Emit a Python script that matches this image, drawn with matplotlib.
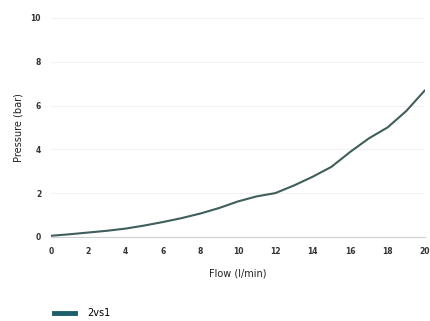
import matplotlib
matplotlib.use("Agg")
import matplotlib.pyplot as plt
from matplotlib.lines import Line2D

flow = [0, 1, 2, 3, 4, 5, 6, 7, 8, 9, 10, 11, 12, 13, 14, 15, 16, 17, 18, 19, 20]
pressure = [0.05, 0.12, 0.2, 0.28, 0.38, 0.52, 0.68, 0.86, 1.07, 1.32, 1.62, 1.85, 2.0, 2.35, 2.75, 3.2, 3.88, 4.5, 5.0, 5.75, 6.7]
series_name = "2vs1"
xticks = [0, 2, 4, 6, 8, 10, 12, 14, 16, 18, 20]
yticks = [0, 2, 4, 6, 8, 10]

fig = plt.figure(figsize=(4.31, 3.21), dpi=100)
ax = fig.add_axes([0.118, 0.262, 0.868, 0.682])

ax.plot(flow, pressure, color="#3f5e5c", lw=1.5, solid_capstyle="round", solid_joinstyle="round")
ax.set_xlim(0, 20)
ax.set_ylim(0, 10)
ax.set_xticks(xticks)
ax.set_yticks(yticks)
ax.tick_params(length=0, labelsize=5.5, colors="#333333", pad=7)
for lbl in ax.get_xticklabels() + ax.get_yticklabels():
    lbl.set_fontweight("bold")

ax.grid(axis="y", color="#f2f2f2", lw=0.8)
ax.set_axisbelow(True)
for s in ["top", "right", "left"]:
    ax.spines[s].set_visible(False)
ax.spines["bottom"].set_color("#d0d0d0")
ax.spines["bottom"].set_linewidth(0.8)

ax.set_xlabel("Flow (l/min)", fontsize=7, color="#222222", labelpad=9)
ax.set_ylabel("Pressure (bar)", fontsize=7, color="#222222", labelpad=5)

handle = Line2D([], [], color="#1d5c6a", lw=3.5)
fig.legend([handle], [series_name], loc="lower left", bbox_to_anchor=(0.105, -0.018),
           frameon=False, fontsize=7, handlelength=2.2, handletextpad=1.2)

fig.savefig("out.png", dpi=100)
